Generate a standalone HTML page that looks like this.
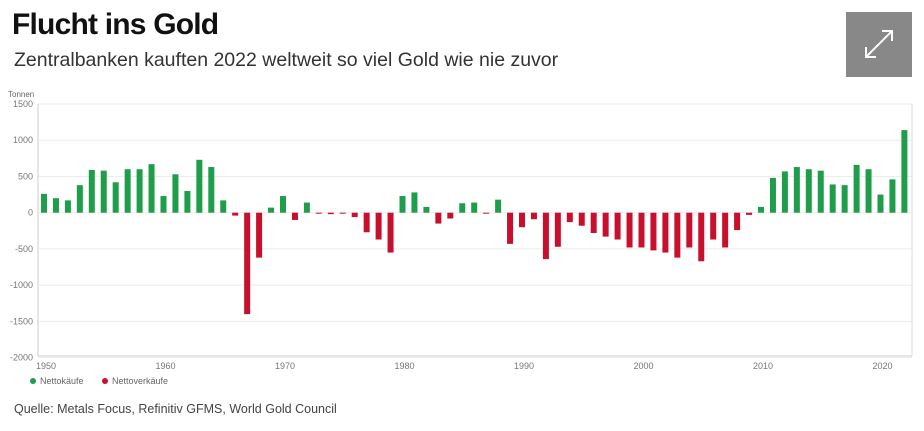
<!DOCTYPE html>
<html><head><meta charset="utf-8"><style>
body{margin:0;width:924px;height:431px;background:#fff;font-family:"Liberation Sans",sans-serif;overflow:hidden;position:relative}
.t{position:absolute;left:12px;top:8px;font-size:30px;font-weight:bold;color:#111;letter-spacing:-0.8px}
.s{position:absolute;left:14px;top:49px;font-size:19.5px;color:#333}
.b{position:absolute;left:846px;top:12px;width:66px;height:65px;background:#888}
.q{position:absolute;left:14px;top:402px;font-size:12.5px;color:#444}
</style></head><body>
<div class="t">Flucht ins Gold</div>
<div class="s">Zentralbanken kauften 2022 weltweit so viel Gold wie nie zuvor</div>
<div class="b"><svg width="66" height="65"><g stroke="#fff" stroke-width="2" fill="none"><path d="M20 45 L46 19 M36 19 H46 V29 M20 35 V45 H30"/></g></svg></div>
<svg id="c" width="924" height="431" style="position:absolute;left:0;top:0"></svg>
<div class="q">Quelle: Metals Focus, Refinitiv GFMS, World Gold Council</div>
<script>
const years=[];for(let y=1950;y<=2022;y++)years.push(y);
const values=[260,200,170,380,590,580,420,600,600,670,230,530,300,730,630,170,-40,-1400,-620,70,230,-100,140,-10,-20,-10,-60,-270,-370,-550,230,280,80,-150,-80,130,140,-10,180,-430,-200,-90,-640,-470,-130,-180,-280,-330,-370,-480,-480,-520,-550,-620,-480,-670,-370,-480,-240,-30,80,480,570,630,600,580,390,380,660,600,250,460,1140];
const yTicks=[1500,1000,500,0,-500,-1000,-1500,-2000];
const xTicks=[1950,1960,1970,1980,1990,2000,2010,2020];
const NS='http://www.w3.org/2000/svg',svg=document.getElementById('c');
const yS=v=>212.7-v*(108.7/1500);
const xS=y=>44+(y-1950)*11.95;
function mk(t,a,txt){const e=document.createElementNS(NS,t);for(const k in a)e.setAttribute(k,a[k]);if(txt!==undefined)e.textContent=txt;svg.appendChild(e);return e;}
let e=mk('text',{x:8,y:97,'font-size':8,fill:'#666'},'Tonnen');


yTicks.forEach(v=>{
 let g=mk('line',{x1:38,x2:912,y1:yS(v),y2:yS(v),stroke:'#ececec','stroke-width':1});
 
 
 let l=mk('text',{x:33,y:yS(v)+3,'font-size':9,fill:'#777','text-anchor':'end'},String(v));
 
 
});
e=mk('line',{x1:38,x2:38,y1:104,y2:356,stroke:'#ccc'});


e=mk('line',{x1:38,x2:912,y1:356,y2:356,stroke:'#ccc'});


e=mk('line',{x1:912,x2:912,y1:104,y2:356,stroke:'#ddd'});


xTicks.forEach(t=>{
 let l=mk('text',{x:xS(t)+2,y:369,'font-size':9,fill:'#777','text-anchor':'middle'},String(t));
 
 
});
years.forEach((y,i)=>{
 const v=values[i],y0=yS(0),y1=yS(v);
 let r=mk('rect',{x:xS(y)-3,y:Math.min(y0,y1),width:6,height:Math.max(1,Math.abs(y1-y0)),fill:v>=0?'#1e9e4a':'#c8102e'});
 
 
});
[[33,'#1e9e4a','Nettokäufe','legend-nettokaeufe'],[105,'#c8102e','Nettoverkäufe','legend-nettoverkaeufe']].forEach(d=>{
 let c=mk('circle',{cx:d[0],cy:381,r:3,fill:d[1]});
 
 
 let t=mk('text',{x:d[0]+7,y:384,'font-size':9,fill:'#666'},d[2]);
 
 
});
</script>
</body></html>
